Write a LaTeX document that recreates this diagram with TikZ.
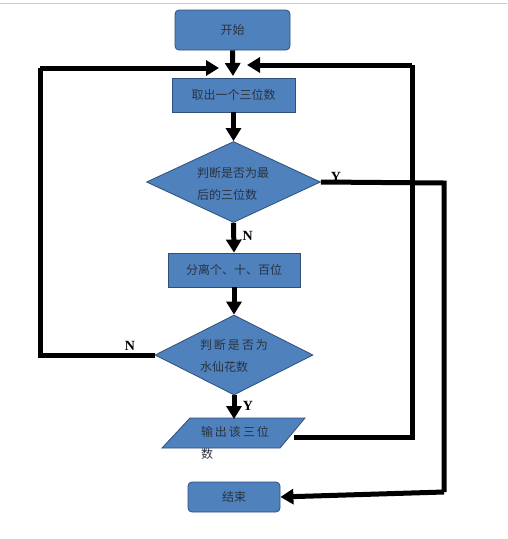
\documentclass[tikz,border=0pt]{standalone}
\usepackage{fontspec}
\setmainfont{Liberation Serif}
\newfontfamily\cjk{Noto Sans CJK SC}
\usetikzlibrary{arrows.meta,shapes.geometric}
\definecolor{boxblue}{HTML}{4F81BD}
\definecolor{boxedge}{HTML}{2F4F7A}
\definecolor{txt}{HTML}{2A3340}
\begin{document}
\begin{tikzpicture}[x=1pt,y=-1pt,
  every node/.style={font=\cjk\fontsize{12}{14}\selectfont, text=txt},
  procbox/.style={draw=boxedge, fill=boxblue, line width=0.8pt, inner sep=0pt},
  termbox/.style={procbox, rounded corners=4pt},
  decbox/.style={diamond, draw=boxedge, fill=boxblue, line width=0.8pt, inner sep=0pt, aspect=2.1},
  flow/.style={line width=5pt, -{Triangle[length=13pt,width=15pt]}},
  wire/.style={line width=5pt},
  lab/.style={font=\bfseries\fontsize{14}{14}\selectfont, text=black}
]
\useasboundingbox (0,0) rectangle (507,539);
\draw[gray!40, line width=1pt] (0,3) -- (507,3);

\node[termbox, minimum width=115, minimum height=40] (start) at (232.5,30) {开始};
\node[procbox, minimum width=123, minimum height=34] (take) at (233.5,95) {取出一个三位数};
\node[decbox, minimum width=174, minimum height=81] (d1) at (233.5,182) {};
\node[align=left, font=\cjk\fontsize{12}{22}\selectfont] (d1t) at (233,184) {判断是否为最\\后的三位数};
\node[procbox, minimum width=132, minimum height=34] (sep) at (234,270) {分离个、十、百位};
\node[decbox, minimum width=158, minimum height=80] (d2) at (234,355) {};
\node[align=left, font=\cjk\fontsize{12}{22}\selectfont] (d2t) at (234,356) {判\,断\,是\,否\,为\\水仙花数};

\coordinate (pa) at (162,448);
\coordinate (pb) at (280,448);
\coordinate (pc) at (305,418);
\coordinate (pd) at (190,418);
\fill[boxblue] (pa) -- (pb) -- (pc) -- (pd) -- cycle;
\draw[boxedge, line width=0.8pt] (pa) -- (pb) -- (pc) -- (pd) -- cycle;
\node[align=left, font=\cjk\fontsize{12}{22}\selectfont] (outt) at (235,443) {输\,出\,该\,三\,位\\数};
\coordinate (outr) at (294,437);

\node[termbox, minimum width=92, minimum height=30] (end) at (234,497) {结束};

% main flow
\coordinate (join) at (233,76);
\draw[flow] (start.south) -- (join);
\draw[flow] (take.south) -- (d1.north);
\draw[flow] (d1.south) -- (sep.north) node[lab, pos=0.45, right=3pt] {N};
\draw[flow] (sep.south) -- (d2.north);
\draw[flow] (d2.south) -- (234,419) node[lab, pos=0.45, right=3pt] {Y};

% left loop (N from d2)
\coordinate (ltop) at (40,68);
\coordinate (lbot) at (40,355);
\draw[wire] (d2.west) -- (lbot) -- (ltop);
\draw[flow] (ltop) -- (219,68);
\node[lab] (nlab) at (130,346) {N};

% right loop (from output)
\coordinate (rbot) at (412,437);
\coordinate (rtop) at (412,65);
\draw[wire] (outr) -- (rbot) -- (rtop);
\draw[flow] (rtop) -- (247,65);

% Y from d1 to end
\coordinate (ya) at (444,183);
\coordinate (yb) at (444,492);
\draw[wire] (d1.east) -- (ya) -- (yb);
\draw[flow] (yb) -- (end.east);
\node[lab] (ylab) at (336,177) {Y};
\end{tikzpicture}
\end{document}
